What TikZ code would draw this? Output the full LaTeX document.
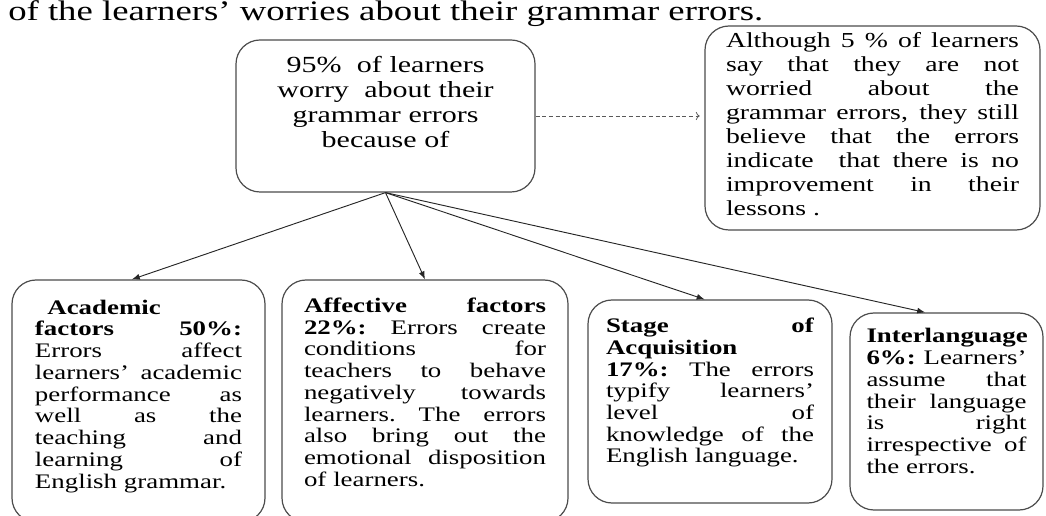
\documentclass[tikz,border=0pt]{standalone}
\usepackage{fontspec}
\setmainfont{Liberation Serif}[FakeStretch=1.3]
\usetikzlibrary{arrows.meta}
\newcommand{\jl}[1]{\makebox[\hsize][s]{\spaceskip=0.25em plus 4em minus 0.05em\relax\xspaceskip=\spaceskip\relax#1}}
\newcommand{\padbot}[1]{\rule[-#1]{0pt}{#1}}

\begin{document}
\begin{tikzpicture}[x=0.75pt,y=0.75pt,yscale=-1,xscale=1,
  roundbox/.style={draw=black!70, line width=0.9pt, rounded corners=18pt, inner sep=0pt, align=left},
  boxtext/.style={font=\fontsize{15.5}{16.3}\selectfont},
  link/.style={draw=black!85, line width=0.7pt, -{Latex[length=6pt,width=4.5pt]}},
  notelink/.style={draw=black!65, line width=0.6pt, dash pattern=on 3pt off 2pt, ->, shorten >=3.5pt}]
\useasboundingbox (0,0) rectangle (1046,516);
\clip (0,0) rectangle (1046,516);
% caption line above the chart
\node (cap) at (8,20.5) [anchor=base west, inner sep=0pt, font=\fontsize{21.2}{23}\selectfont] {of the learners’ worries about their grammar errors.};
% top box and side note
\node (worry) at (385.5,116) [roundbox, minimum width=224.25pt, minimum height=114pt, text width=210pt, align=center, font=\fontsize{17.3}{18.75}\selectfont] {95\%\ \ of learners\\ worry\ \ about their\\ grammar errors\\ because of\padbot{21.75pt}};
\node (note) at (872.5,128) [roundbox, minimum width=251.25pt, minimum height=153pt, text width=219.75pt, font=\fontsize{16}{17.9}\selectfont] {%
\jl{Although 5 \% of learners}\\
\jl{say that they are not}\\
\jl{worried about the}\\
\jl{grammar errors, they still}\\
\jl{believe that the errors}\\
\jl{indicate\ \ that there is no}\\
\jl{improvement in their}\\
lessons .\padbot{6pt}};
% four factor boxes
\node (acad) at (138.5,401) [roundbox, boxtext, minimum width=189.75pt, minimum height=181.5pt, text width=155.25pt] {%
\hspace*{0.6em}\textbf{Academic}\\
\jl{\textbf{factors 50\%:}}\\
\jl{Errors affect}\\
\jl{learners' academic}\\
\jl{performance as}\\
\jl{well as the}\\
\jl{teaching and}\\
\jl{learning of}\\
English grammar.\padbot{10.5pt}};
\node (affect) at (425,401) [roundbox, boxtext, minimum width=214.5pt, minimum height=181.5pt, text width=181.5pt] {%
\jl{\textbf{Affective factors}}\\
\jl{\textbf{22\%:} Errors create}\\
\jl{conditions for}\\
\jl{teachers to behave}\\
\jl{negatively towards}\\
\jl{learners. The errors}\\
\jl{also bring out the}\\
\jl{emotional disposition}\\
of learners.\padbot{13.5pt}};
\node (stage) at (710,401.5) [roundbox, boxtext, minimum width=183pt, minimum height=152.25pt, text width=156pt] {%
\jl{\textbf{Stage of}}\\
\textbf{Acquisition}\\
\jl{\textbf{17\%:} The errors}\\
\jl{typify learners'}\\
\jl{level of}\\
\jl{knowledge of the}\\
English language.\padbot{16.5pt}};
\node (inter) at (946.5,411.5) [roundbox, boxtext, minimum width=144.75pt, minimum height=147.75pt, text width=120pt] {%
\textbf{Interlanguage}\\
\jl{\textbf{6\%:} Learners'}\\
\jl{assume that}\\
\jl{their language}\\
\jl{is right}\\
\jl{irrespective of}\\
the errors.\padbot{15.75pt}};
% connectors
\draw[notelink] (worry.east) -- (worry.east -| note.west);
\draw[link] (worry.south) -- ([xshift=-5pt]acad.north);
\draw[link] (worry.south) -- (affect.north);
\draw[link] (worry.south) -- ([xshift=-4pt]stage.north);
\draw[link] (worry.south) -- ([xshift=-16pt]inter.north);
\end{tikzpicture}
\end{document}
